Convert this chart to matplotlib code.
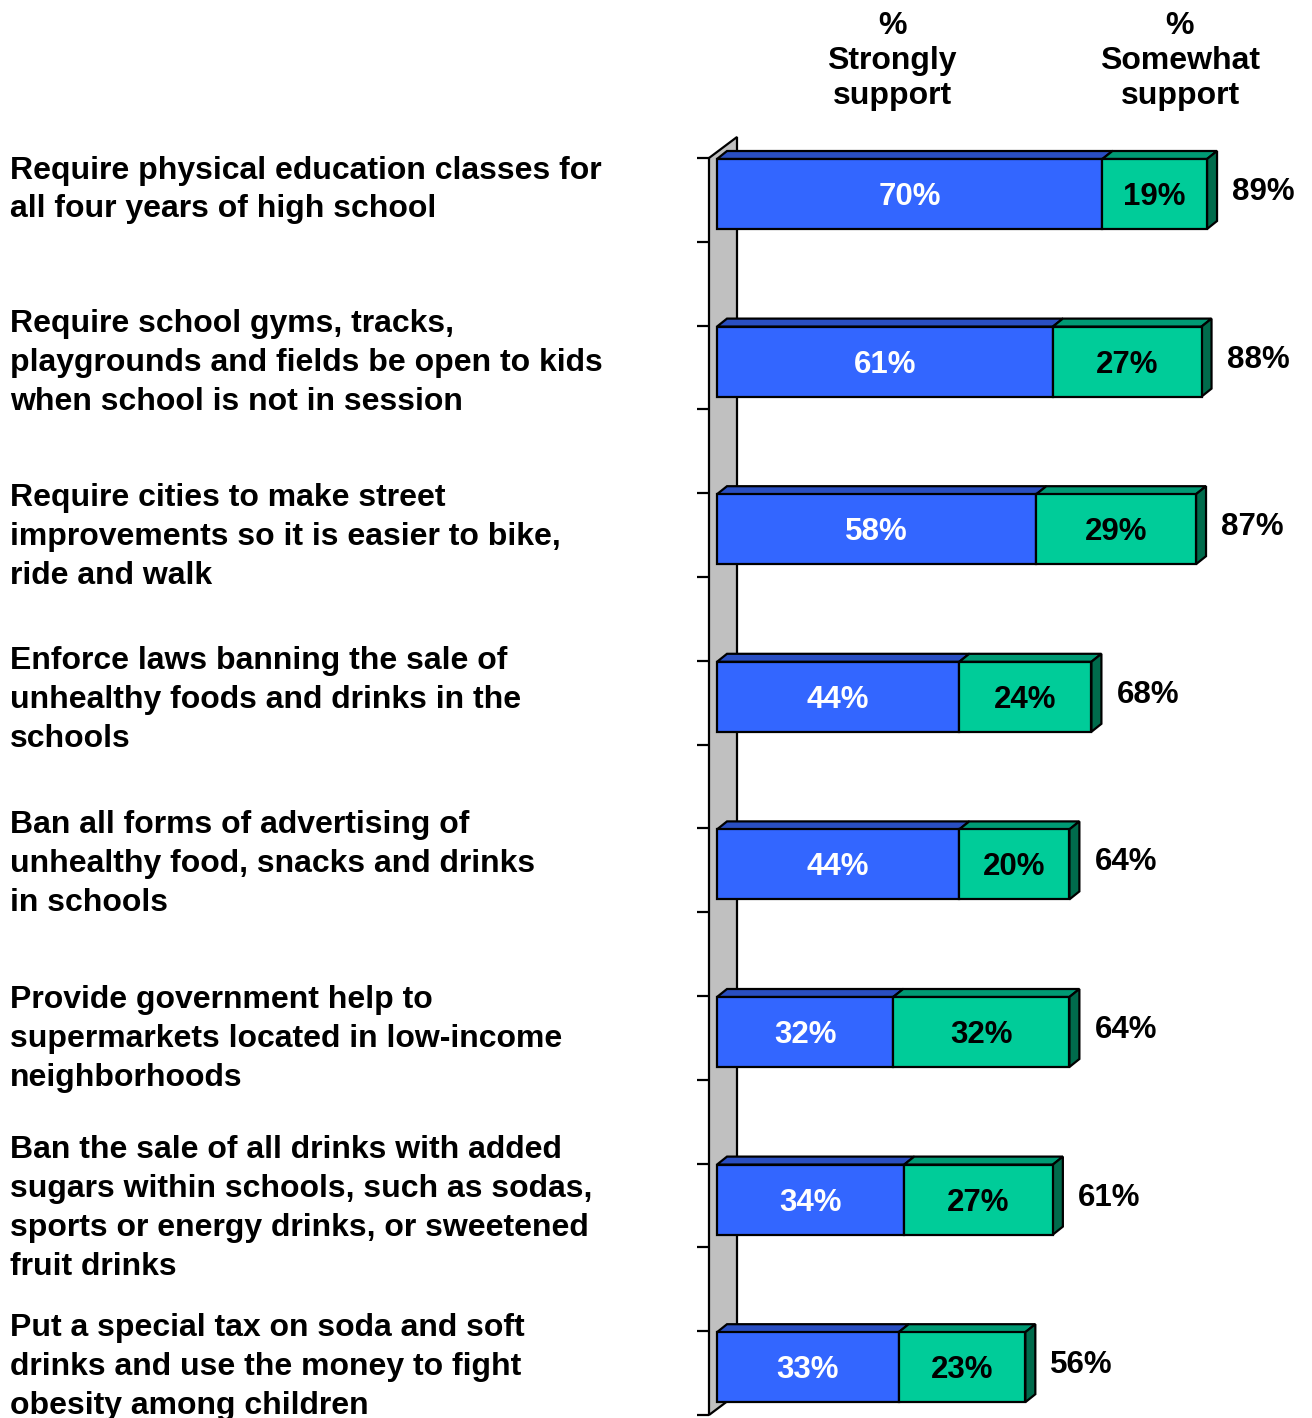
import matplotlib
import matplotlib.pyplot as plt
from matplotlib.patches import Polygon
import matplotlib.transforms as mtransforms

matplotlib.use('Agg')
plt.rcParams['font.family'] = ['Liberation Sans', 'DejaVu Sans']

questions = [
    "Require physical education classes for\nall four years of high school",
    "Require school gyms, tracks,\nplaygrounds and fields be open to kids\nwhen school is not in session",
    "Require cities to make street\nimprovements so it is easier to bike,\nride and walk",
    "Enforce laws banning the sale of\nunhealthy foods and drinks in the\nschools",
    "Ban all forms of advertising of\nunhealthy food, snacks and drinks\nin schools",
    "Provide government help to\nsupermarkets located in low-income\nneighborhoods",
    "Ban the sale of all drinks with added\nsugars within schools, such as sodas,\nsports or energy drinks, or sweetened\nfruit drinks",
    "Put a special tax on soda and soft\ndrinks and use the money to fight\nobesity among children",
]
strongly = [70, 61, 58, 44, 44, 32, 34, 33]
somewhat = [19, 27, 29, 24, 20, 32, 27, 23]
totals = [89, 88, 87, 68, 64, 64, 61, 56]
headers = ["%\nStrongly\nsupport", "%\nSomewhat\nsupport"]

# small vertical nudges (px) of the question labels, as in the original layout
label_nudge = [-4, 1, 8, 3, 0, 7, 9, 0]

W, H = 1312, 1418
fig = plt.figure(figsize=(W / 100, H / 100), dpi=100)

# pixel scale of the value / category axes
x0_px, px_per_pct = 717, 5.506
y0_px, px_per_cat = 194, 167.6
ax = fig.add_axes([690 / W, 0, 1 - 690 / W, 1])
ax.set_xlim(-(x0_px - 690) / px_per_pct, (W - x0_px) / px_per_pct)
ax.set_ylim((H - y0_px) / px_per_cat, -y0_px / px_per_cat)
ax.axis('off')


def px_x(p):
    return p / px_per_pct


def px_y(p):
    return p / px_per_cat


lw = 1.6
blue, blue_top = '#3366FF', '#2A4FC2'
green, green_top, green_side = '#00CC99', '#009A74', '#006B4C'

# grey wall behind the bars
wx0, wx1 = px_x(-8), px_x(20)
wdy = px_y(21)
top_y, bot_y = px_y(158 - y0_px), px_y(1415 - y0_px)
ax.add_patch(Polygon([(wx0, top_y), (wx1, top_y - wdy), (wx1, bot_y - wdy),
                      (wx0, bot_y)], closed=True, facecolor='#C0C0C0',
                     edgecolor='black', lw=lw, zorder=1))
# ticks on the wall
k = 0
while top_y + 0.5 * k <= bot_y + 0.01:
    ax.plot([px_x(-20), wx0], [top_y + 0.5 * k] * 2, color='black', lw=lw,
            zorder=1, solid_capstyle='butt')
    k += 1

bh = px_y(70)
ddx, ddy = px_x(10), px_y(8)
for i in range(len(questions)):
    s, m, t = strongly[i], somewhat[i], totals[i]
    yt, yb = i - bh / 2, i + bh / 2
    for x_a, x_b, fc, tc in [(0, s, blue, blue_top), (s, t, green, green_top)]:
        ax.add_patch(Polygon([(x_a, yt), (x_b, yt), (x_b + ddx, yt - ddy),
                              (x_a + ddx, yt - ddy)], closed=True,
                             facecolor=tc, edgecolor='black', lw=lw, zorder=2))
        ax.add_patch(Polygon([(x_a, yt), (x_b, yt), (x_b, yb), (x_a, yb)],
                             closed=True, facecolor=fc, edgecolor='black',
                             lw=lw, zorder=3))
    ax.add_patch(Polygon([(t, yt), (t + ddx, yt - ddy), (t + ddx, yb - ddy),
                          (t, yb)], closed=True, facecolor=green_side,
                         edgecolor='black', lw=lw, zorder=2))
    ax.text(s / 2, i + px_y(3), f"{s}%", color='white', fontsize=22.5,
            fontweight='bold', ha='center', va='center', zorder=4)
    ax.text(s + m / 2, i + px_y(3), f"{m}%", color='black', fontsize=22.5,
            fontweight='bold', ha='center', va='center', zorder=4)
    ax.text(t + px_x(25), i - px_y(2), f"{t}%", color='black',
            fontsize=22.5, fontweight='bold', ha='left', va='center', zorder=4)

trans = mtransforms.blended_transform_factory(fig.transFigure, ax.transData)
for i, q in enumerate(questions):
    ax.text(10 / W, i + px_y(label_nudge[i]), q, transform=trans, fontsize=23,
            fontweight='bold', ha='left', va='center', linespacing=1.39)

for hx, h in zip([892, 1180], headers):
    fig.text(hx / W, 1 - 61 / H, h, fontsize=23, fontweight='bold',
             ha='center', va='center', linespacing=1.23)

fig.savefig('out.png', dpi=100)
